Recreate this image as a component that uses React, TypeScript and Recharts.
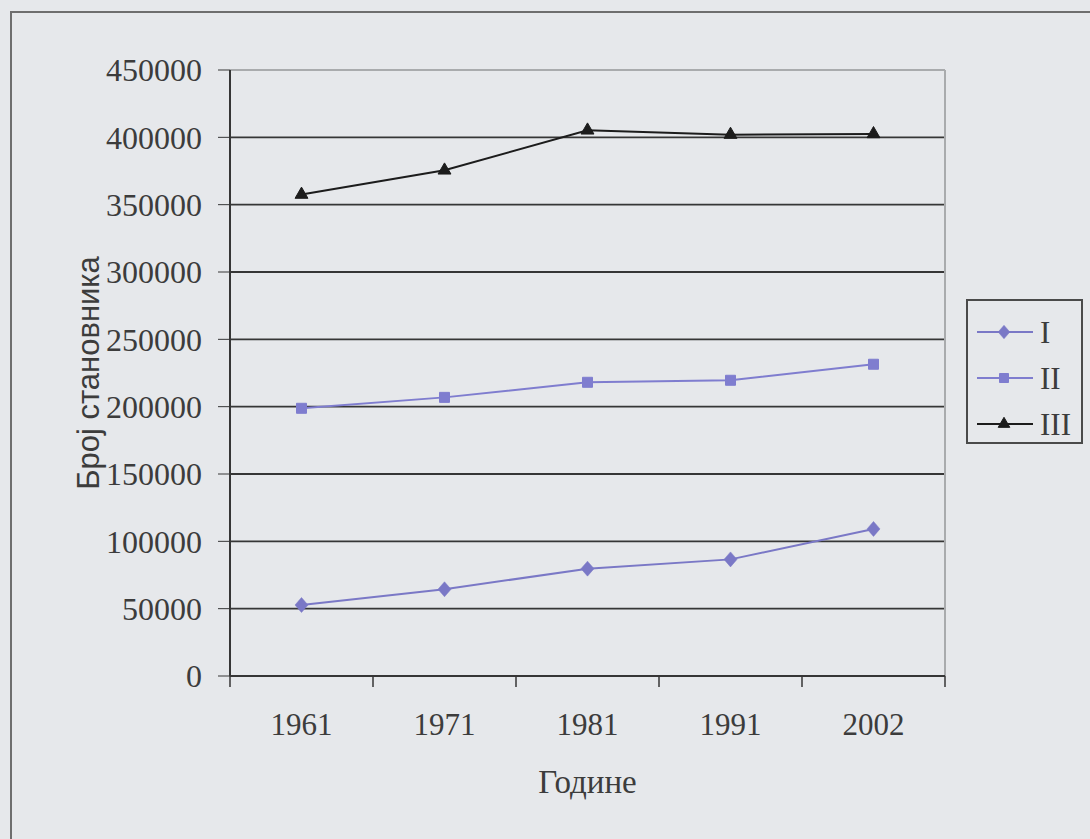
import React from 'react';
import {
  LineChart,
  Line,
  XAxis,
  YAxis,
  CartesianGrid,
  Legend,
  ReferenceLine,
  Label,
  Symbols,
} from 'recharts';

// ---- data ----
const years = ['1961', '1971', '1981', '1991', '2002'];
const seriesI = [52700, 64400, 79700, 86600, 109200];
const seriesII = [198800, 206900, 218100, 219600, 231500];
const seriesIII = [357500, 375500, 405200, 402000, 402500];
const seriesNames = ['I', 'II', 'III'];
const yTicks = [0, 50000, 100000, 150000, 200000, 250000, 300000, 350000, 400000, 450000];
const yLabel = 'Број становника';
const xLabel = 'Године';

const data = years.map((year, i) => ({
  year,
  I: seriesI[i],
  II: seriesII[i],
  III: seriesIII[i],
}));

// ---- styles ----
const seriesColors = ['#7a78c6', '#7f7dcf', '#1c1c1c'];
const seriesShapes = ['diamond', 'square', 'triangle'];
const serif = '"Liberation Serif", "Times New Roman", serif';
const sans = '"Liberation Sans", Arial, sans-serif';
const textColor = '#3c3c3c';
const gridColor = '#363636';
const lightBorder = '#a9abad';
const X_TICK_MARGIN = 37;
const X_TICK_LEN = 11;

const Marker = ({ cx, cy, idx, scale = 1 }: { cx: number; cy: number; idx: number; scale?: number }) => {
  const color = seriesColors[idx];
  const shape = seriesShapes[idx];
  if (shape === 'diamond') {
    const w = 6.5 * scale;
    const h = 7.5 * scale;
    return (
      <polygon
        points={`${cx},${cy - h} ${cx + w},${cy} ${cx},${cy + h} ${cx - w},${cy}`}
        fill={color}
        stroke={color}
        strokeWidth={0.5}
      />
    );
  }
  if (shape === 'square') {
    return <Symbols cx={cx} cy={cy} type="square" size={100 * scale * scale} fill={color} stroke={color} />;
  }
  return <Symbols cx={cx} cy={cy} type="triangle" size={72 * scale * scale} fill={color} stroke={color} />;
};

const makeDot = (idx: number) => (props: any) => {
  const { cx, cy, index } = props;
  if (cx == null || cy == null) return <g key={`d-${idx}-${index}`} />;
  return (
    <g key={`d-${idx}-${index}`}>
      <Marker cx={cx} cy={cy} idx={idx} />
    </g>
  );
};

// category tick: label at band centre, tick mark at band edges
const CategoryTick = (props: any) => {
  const { x, y, payload, width, visibleTicksCount, index } = props;
  let band = 0;
  if (typeof width === 'number' && visibleTicksCount) band = width / visibleTicksCount;
  else if (payload && typeof payload.offset === 'number') band = payload.offset * 2;
  const axisY = y - X_TICK_MARGIN;
  return (
    <g>
      {band > 0 && (
        <line
          x1={x - band / 2}
          x2={x - band / 2}
          y1={axisY}
          y2={axisY + X_TICK_LEN}
          stroke={gridColor}
          strokeWidth={1.5}
        />
      )}
      {band > 0 && index === visibleTicksCount - 1 && (
        <line
          x1={x + band / 2}
          x2={x + band / 2}
          y1={axisY}
          y2={axisY + X_TICK_LEN}
          stroke={gridColor}
          strokeWidth={1.5}
        />
      )}
      <text
        x={x}
        y={y}
        dy="0.71em"
        textAnchor="middle"
        fill={textColor}
        style={{ fontSize: 31, fontFamily: serif }}
      >
        {payload.value}
      </text>
    </g>
  );
};

const renderLegend = (props: any) => {
  const payload = props.payload || [];
  return (
    <div
      style={{
        width: 117,
        height: 145,
        boxSizing: 'border-box',
        border: '2px solid #4a4a4a',
        paddingTop: 8,
        background: 'transparent',
      }}
    >
      {payload.map((entry: any) => {
        const idx = seriesNames.indexOf(String(entry.dataKey ?? entry.value));
        const color = seriesColors[idx];
        return (
          <div
            key={String(entry.value)}
            style={{ height: 46, display: 'flex', alignItems: 'center' }}
          >
            <svg width={72} height={24} style={{ display: 'block', flex: 'none' }}>
              <line x1={9} y1={12} x2={65} y2={12} stroke={color} strokeWidth={2} />
              <Marker cx={36} cy={12} idx={idx} scale={0.9} />
            </svg>
            <span
              style={{
                fontFamily: serif,
                fontSize: 31,
                color: textColor,
                lineHeight: '31px',
              }}
            >
              {entry.value}
            </span>
          </div>
        );
      })}
    </div>
  );
};

export default function App() {
  return (
    <div
      style={{
        position: 'absolute',
        left: 0,
        top: 0,
        width: 1090,
        height: 839,
        overflow: 'hidden',
        background: '#e6e8eb',
      }}
    >
      <div
        style={{
          position: 'absolute',
          left: 10,
          top: 11,
          width: 1200,
          height: 1000,
          borderLeft: '2px solid #6e6e6e',
          borderTop: '2px solid #6e6e6e',
        }}
      />
      <div style={{ position: 'absolute', left: 0, top: 0 }}>
        <LineChart
          width={1090}
          height={839}
          data={data}
          margin={{ top: 70, right: 28, left: 0, bottom: 41 }}
        >
          <CartesianGrid vertical={false} stroke={gridColor} strokeWidth={1.8} />
          <CartesianGrid
            horizontal={false}
            stroke={lightBorder}
            strokeWidth={2}
            verticalCoordinatesGenerator={(p: any) => [p.offset.left + p.offset.width]}
          />
          <XAxis
            dataKey="year"
            type="category"
            scale="band"
            interval={0}
            height={122}
            tickLine={false}
            axisLine={{ stroke: gridColor, strokeWidth: 2 }}
            tickSize={0}
            tickMargin={X_TICK_MARGIN}
            tick={<CategoryTick />}
          >
            <Label
              value={xLabel}
              position="insideBottom"
              offset={5}
              style={{ fill: textColor, fontSize: 33, fontFamily: serif }}
            />
          </XAxis>
          <YAxis
            domain={[0, 450000]}
            ticks={yTicks}
            interval={0}
            width={230}
            tickSize={12}
            tickMargin={16}
            tickLine={true}
            stroke={gridColor}
            axisLine={{ stroke: gridColor, strokeWidth: 2 }}
            tick={{ fill: textColor, fontSize: 32, fontFamily: serif }}
          >
            <Label
              value={yLabel}
              angle={-90}
              position="center"
              dx={-27}
              style={{ fill: textColor, fontSize: 31, fontFamily: sans, textAnchor: 'middle' }}
            />
          </YAxis>
          <ReferenceLine y={450000} stroke={lightBorder} strokeWidth={2} />
          {seriesNames.map((name, idx) => (
            <Line
              key={name}
              dataKey={name}
              name={name}
              type="linear"
              stroke={seriesColors[idx]}
              strokeWidth={2}
              dot={makeDot(idx)}
              activeDot={false}
              isAnimationActive={false}
            />
          ))}
          <Legend
            layout="vertical"
            align="right"
            verticalAlign="top"
            width={117}
            wrapperStyle={{ top: 299, right: 7, left: 'auto' }}
            content={renderLegend}
          />
        </LineChart>
      </div>
    </div>
  );
}
